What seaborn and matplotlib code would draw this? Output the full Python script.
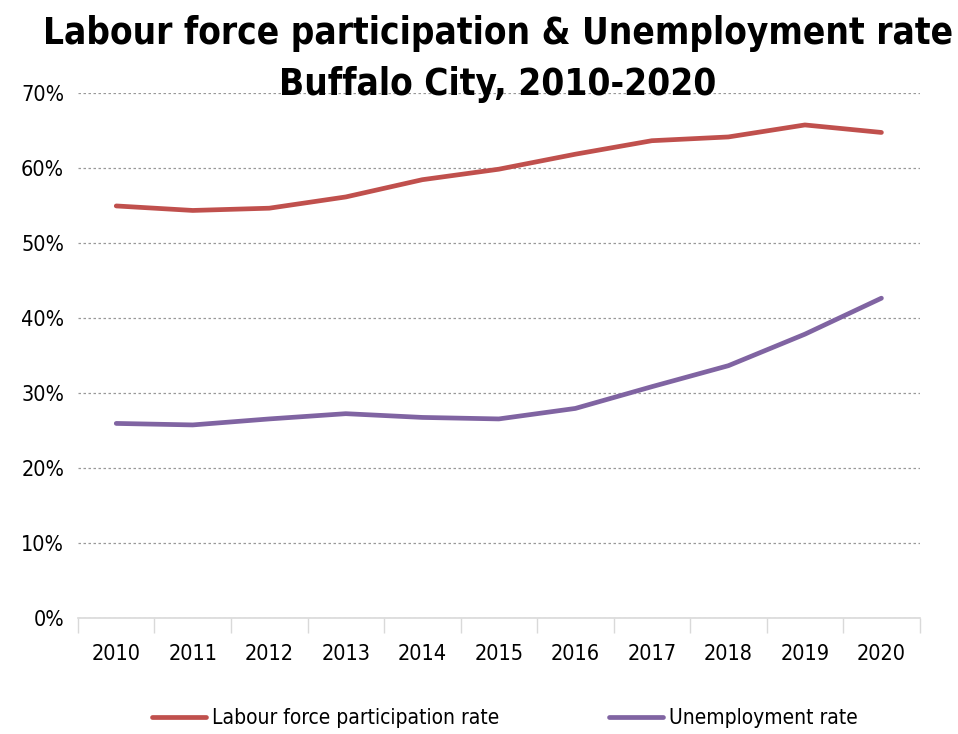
import matplotlib
matplotlib.use("Agg")
import matplotlib.pyplot as plt
import matplotlib.font_manager as fm
import seaborn as sns
import pandas as pd
from matplotlib.ticker import PercentFormatter, MultipleLocator, FixedLocator
from matplotlib.lines import Line2D

years = ["2010", "2011", "2012", "2013", "2014", "2015", "2016", "2017", "2018", "2019", "2020"]
labour_force = [54.9, 54.3, 54.6, 56.1, 58.4, 59.8, 61.8, 63.6, 64.1, 65.7, 64.7]
unemployment = [25.9, 25.7, 26.5, 27.2, 26.7, 26.5, 27.9, 30.8, 33.6, 37.8, 42.6]
series_names = ["Labour force participation rate", "Unemployment rate"]
colors = ["#C0504D", "#8064A2"]

sns.set_style("white")
plt.rcParams["font.family"] = ["Liberation Sans", "DejaVu Sans"]
plt.rcParams["text.color"] = "black"
plt.rcParams["xtick.color"] = "black"
plt.rcParams["ytick.color"] = "black"

# look for a condensed/narrow face
reg_path, bold_path = None, None
for f in fm.fontManager.ttflist:
    fn = f.fname.lower()
    if ("narrow" in fn or "condensed" in fn) and "oblique" not in fn and "italic" not in fn:
        if "bold" in fn and bold_path is None:
            bold_path = f.fname
        elif "bold" not in fn and reg_path is None:
            reg_path = f.fname

if reg_path:
    tick_fp = fm.FontProperties(fname=reg_path, size=15.5)
    leg_fp = fm.FontProperties(fname=reg_path, size=15)
else:
    tick_fp = fm.FontProperties(family=["Liberation Sans"], size=15)
    leg_fp = fm.FontProperties(family=["Liberation Sans"], size=14.5)
if bold_path:
    title_fp = fm.FontProperties(fname=bold_path, size=26.5)
else:
    title_fp = fm.FontProperties(family=["Liberation Sans"], weight="bold", size=24)

df = pd.DataFrame({
    "x": list(range(len(years))) * 2,
    "value": [v / 100 for v in labour_force] + [v / 100 for v in unemployment],
    "series": [series_names[0]] * len(years) + [series_names[1]] * len(years),
})

fig = plt.figure(figsize=(9.58, 7.34), dpi=100)
ax = fig.add_axes([0.0814, 0.1585, 0.8786, 0.7152])

sns.lineplot(data=df, x="x", y="value", hue="series", palette=colors,
             linewidth=3.4, ax=ax, legend=False, solid_capstyle="round")

ax.set_xlim(-0.5, len(years) - 0.5)
ax.set_ylim(0, 0.7)
ax.yaxis.set_major_locator(MultipleLocator(0.1))
ax.yaxis.set_major_formatter(PercentFormatter(1.0, decimals=0))
ax.set_xticks(range(len(years)))
ax.set_xticklabels(years)
ax.xaxis.set_minor_locator(FixedLocator([i - 0.5 for i in range(len(years) + 1)]))
ax.tick_params(axis="x", which="major", bottom=False, length=0, pad=19)
ax.tick_params(axis="x", which="minor", bottom=True, length=11, color="#D9D9D9", width=1)
ax.tick_params(axis="y", left=False, length=0, pad=10)
for lab in ax.get_xticklabels() + ax.get_yticklabels():
    lab.set_fontproperties(tick_fp)
ax.set_xlabel("")
ax.set_ylabel("")

ax.grid(axis="y", linestyle=(0, (2, 2)), color="#999999", linewidth=0.9)
ax.grid(axis="x", visible=False)
for s in ["top", "right", "left"]:
    ax.spines[s].set_visible(False)
ax.spines["bottom"].set_color("#D9D9D9")
ax.spines["bottom"].set_linewidth(1.2)

fig.text(0.52, 0.9195, "Labour force participation & Unemployment rate\nBuffalo City, 2010-2020",
         ha="center", va="center", fontproperties=title_fp, linespacing=1.5)

handles = [Line2D([0], [0], color=c, linewidth=3.4, solid_capstyle="round") for c in colors]
leg = fig.legend(handles, series_names, loc="center", bbox_to_anchor=(0.527, 0.022), ncol=2,
                 frameon=False, prop=leg_fp, handlelength=2.6, handletextpad=0.25,
                 columnspacing=5.3)

fig.savefig("out.png", dpi=100)
